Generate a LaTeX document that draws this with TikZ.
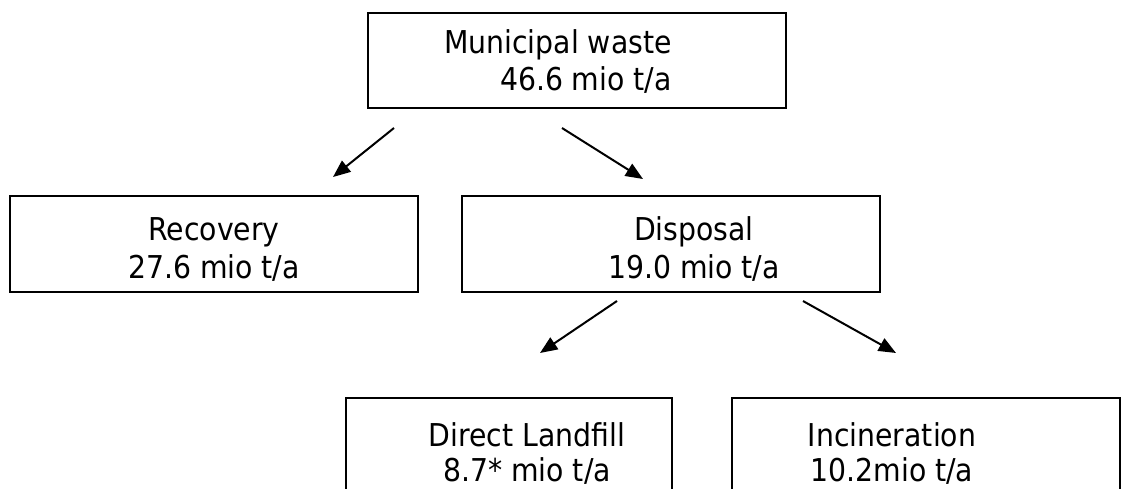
\documentclass[tikz,border=0pt]{standalone}
\usepackage{fontspec}
\setmainfont{DejaVu Sans Condensed}
\usetikzlibrary{arrows.meta}
\begin{document}
\begin{tikzpicture}[x=0.75pt,y=-0.75pt,
  box/.style={draw=black,line width=1.5pt,inner sep=0pt,fill=none},
  lbl/.style={inner sep=0pt,font=\fontsize{23.6}{28.5}\selectfont,text=black},
  flow/.style={draw=black,line width=1.5pt,-{Triangle[length=13pt,width=10.5pt]}}]
\useasboundingbox (0,0) rectangle (1128,489);
\clip (0,0) rectangle (1128,489);
% boxes
\node[box,minimum width=313.5pt,minimum height=71.25pt] (top) at (577,60.5) {};
\node[box,minimum width=306pt,minimum height=72pt] (rec) at (214,244) {};
\node[box,minimum width=313.5pt,minimum height=72pt] (dis) at (671,244) {};
\node[box,minimum width=244.5pt,minimum height=120pt] (land) at (509,478) {};
\node[box,minimum width=291pt,minimum height=120pt] (inc) at (926,478) {};
% texts
\node[lbl,anchor=base east] (top1) at (672,53) {Municipal waste};
\node[lbl,anchor=base east] (top2) at (672,90) {46.6 mio t/a};
\node[lbl,anchor=base] (rec1) at (214,240) {Recovery};
\node[lbl,anchor=base] (rec2) at (214,278) {27.6 mio t/a};
\node[lbl,anchor=base] (dis1) at (694,240) {Disposal};
\node[lbl,anchor=base] (dis2) at (694,278) {19.0 mio t/a};
\node[lbl,anchor=base] (land1) at (527,446) {Direct Landfill};
\node[lbl,anchor=base] (land2) at (527,481) {8.7* mio t/a};
\node[lbl,anchor=base] (inc1) at (892,446) {Incineration};
\node[lbl,anchor=base] (inc2) at (892,481) {10.2mio t/a};
% arrow ends
\coordinate (a1s) at (394,128);
\coordinate (a1e) at (333,177);
\coordinate (a2s) at (562,128);
\coordinate (a2e) at (643,179);
\coordinate (a3s) at (617,301);
\coordinate (a3e) at (540,353);
\coordinate (a4s) at (803,301);
\coordinate (a4e) at (896,353);
\draw[flow] (a1s) -- (a1e);
\draw[flow] (a2s) -- (a2e);
\draw[flow] (a3s) -- (a3e);
\draw[flow] (a4s) -- (a4e);
\end{tikzpicture}
\end{document}
